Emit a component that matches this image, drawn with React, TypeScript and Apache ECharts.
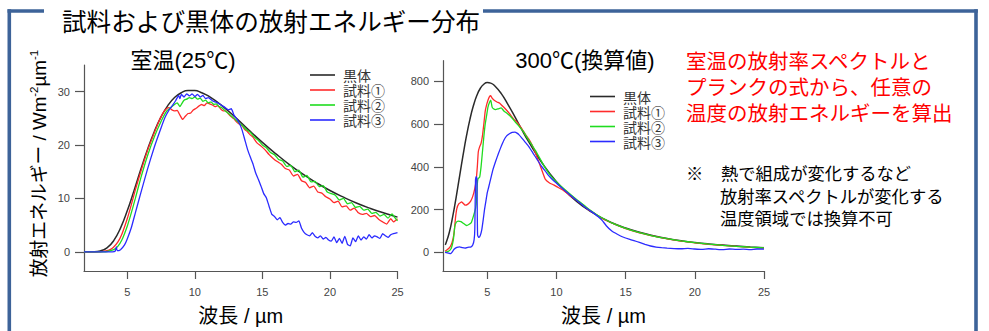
import React, { useEffect, useRef } from 'react';
import * as echarts from 'echarts';

// ---------- labels ----------
const MAIN_TITLE = '試料および黒体の放射エネルギー分布';
const ROOM_TITLE = '室温(25℃)';
const HOT_TITLE = '300℃(換算値)';
const SERIES_NAMES = ['黒体', '試料①', '試料②', '試料③'];
const X_NAME = '波長 / µm';
const RED_NOTE = ['室温の放射率スペクトルと', 'プランクの式から、任意の', '温度の放射エネルギーを算出'];
const BLACK_NOTE = ['熱で組成が変化するなど', '放射率スペクトルが変化する', '温度領域では換算不可'];

// ---------- ticks ----------
const X_TICKS = [5, 10, 15, 20, 25];
const Y_TICKS_ROOM = [0, 10, 20, 30];
const Y_TICKS_HOT = [0, 200, 400, 600, 800];

// ---------- room temperature (25°C) ----------
const roomBlack: [number, number][] = [
  [1.8, 0], [2.5, 0.02], [3, 0.16], [3.5, 0.73], [4, 2.09], [4.5, 4.44], [5, 7.67], [5.5, 11.46],
  [6, 15.4], [6.5, 19.17], [7, 22.5], [7.5, 25.28], [8, 27.4], [8.5, 28.9], [9, 29.8], [9.5, 30.2],
  [10, 30.2], [10.5, 29.8], [11, 29.2], [12, 27.4], [13, 25.2], [14, 22.8], [15, 20.5], [16, 18.36],
  [17, 16.35], [18, 14.54], [19, 12.93], [20, 11.49], [21, 10.23], [22, 9.1], [23, 8.12], [24, 7.26], [25, 6.5],
];
const roomS1: [number, number][] = [
  [1.8, 0], [3, 0], [3.5, 0.2], [3.8, 0.5], [4, 0.9], [4.3, 1.8], [4.6, 3.3], [5, 6.2], [5.3, 8.8],
  [5.6, 11.6], [6, 15.0], [6.5, 19.0], [7, 22.3], [7.3, 24.2], [7.6, 25.8], [7.9, 26.8], [8.1, 27.0],
  [8.3, 26.6], [8.5, 26.4], [8.7, 26.5], [8.9, 25.6], [9.1, 24.8], [9.3, 25.4], [9.5, 25.9], [9.7, 26.0],
  [9.9, 26.6], [10.1, 26.9], [10.3, 27.3], [10.5, 27.6], [10.7, 27.4], [10.9, 27.9], [11.1, 27.7],
  [11.3, 27.5], [11.5, 27.2], [11.7, 27.4], [11.9, 26.8], [12.1, 26.4], [12.3, 26.4], [12.5, 25.8],
  [12.7, 25.3], [12.9, 24.9], [13.1, 24.3], [13.3, 23.9], [13.5, 23.6], [13.7, 22.9], [13.9, 22.5],
  [14.1, 21.9], [14.3, 21.5], [14.6, 20.4], [14.9, 19.8], [15.2, 19.1], [15.5, 18.2], [15.8, 17.5],
  [16.1, 16.9], [16.4, 16.4], [16.7, 15.6], [17.0, 15.3], [17.3, 14.2], [17.6, 14.5], [17.9, 13.3],
  [18.2, 13.0], [18.5, 12.0], [18.8, 12.3], [19.1, 11.2], [19.4, 11.0], [19.7, 10.3], [20.0, 9.9],
  [20.3, 9.2], [20.6, 9.5], [20.9, 8.4], [21.2, 8.6], [21.5, 7.8], [21.8, 8.2], [22.1, 7.3], [22.4, 7.0],
  [22.7, 7.2], [23.0, 6.6], [23.3, 6.8], [23.6, 6.1], [23.9, 5.6], [24.2, 5.2], [24.5, 6.2], [24.7, 5.6], [25.0, 6.2],
];
const roomS2: [number, number][] = [
  [1.8, 0], [3.2, 0], [3.6, 0.1], [4, 0.4], [4.3, 1.0], [4.6, 2.2], [5, 4.8], [5.3, 7.3], [5.6, 10.0],
  [6, 13.8], [6.5, 18.0], [7, 21.5], [7.5, 24.4], [7.9, 26.3], [8.2, 27.0], [8.5, 27.6], [8.7, 27.9],
  [8.9, 27.2], [9.0, 27.6], [9.2, 28.4], [9.4, 28.6], [9.6, 28.9], [9.8, 28.7], [10.0, 29.0], [10.2, 28.6],
  [10.4, 28.8], [10.6, 28.2], [10.8, 28.4], [11.0, 27.9], [11.2, 28.1], [11.4, 27.6], [11.6, 27.7],
  [11.8, 27.2], [12.0, 27.0], [12.3, 26.3], [12.6, 25.7], [12.9, 25.0], [13.2, 24.3], [13.5, 23.7],
  [13.8, 22.9], [14.1, 22.4], [14.4, 21.5], [14.7, 20.9], [15.0, 20.0], [15.3, 19.5], [15.6, 18.6],
  [15.9, 18.2], [16.2, 17.3], [16.5, 17.0], [16.8, 16.0], [17.1, 16.2], [17.4, 15.0], [17.7, 15.3],
  [18.0, 14.0], [18.3, 14.3], [18.6, 13.1], [18.9, 13.2], [19.2, 12.2], [19.5, 12.4], [19.8, 11.2],
  [20.1, 10.9], [20.4, 10.6], [20.7, 9.7], [21.0, 10.0], [21.3, 9.0], [21.6, 9.2], [21.9, 8.3], [22.2, 8.5],
  [22.5, 7.8], [22.8, 8.0], [23.1, 7.2], [23.4, 7.4], [23.7, 6.7], [24.0, 7.0], [24.3, 6.3], [24.6, 7.1],
  [24.8, 6.4], [25.0, 5.8],
];
const roomS3: [number, number][] = [
  [1.8, 0], [3.9, 0], [4.1, 0.1], [4.2, 0.9], [4.25, 0.2], [4.5, 0.4], [4.8, 1.3], [5.0, 2.4], [5.3, 4.5],
  [5.6, 7.3], [6.0, 11.0], [6.5, 15.5], [7.0, 19.6], [7.5, 23.2], [7.8, 25.2], [8.1, 26.6], [8.4, 27.6],
  [8.6, 28.4], [8.8, 29.3], [8.9, 28.7], [9.0, 29.5], [9.2, 29.0], [9.4, 29.6], [9.6, 29.2], [9.8, 29.6],
  [10.0, 29.1], [10.2, 29.5], [10.4, 29.0], [10.6, 29.3], [10.8, 28.7], [11.0, 28.9], [11.3, 28.3],
  [11.6, 28.0], [11.9, 27.6], [12.2, 27.1], [12.5, 26.6], [12.7, 26.8], [12.9, 25.6], [13.1, 24.9],
  [13.3, 24.1], [13.5, 22.8], [13.7, 21.0], [13.9, 19.2], [14.1, 17.8], [14.3, 16.5], [14.5, 14.8],
  [14.7, 13.6], [14.9, 12.3], [15.1, 10.9], [15.3, 10.1], [15.5, 8.5], [15.7, 7.0], [15.9, 6.6],
  [16.1, 6.0], [16.3, 6.4], [16.5, 5.5], [16.7, 5.0], [16.9, 5.3], [17.1, 5.2], [17.3, 5.6], [17.5, 5.5],
  [17.7, 5.8], [17.9, 4.4], [18.1, 3.6], [18.3, 3.2], [18.5, 3.0], [18.7, 3.6], [18.9, 2.9], [19.1, 2.6],
  [19.3, 3.0], [19.5, 2.4], [19.7, 2.7], [19.9, 2.2], [20.1, 2.0], [20.3, 2.8], [20.5, 1.7], [20.7, 2.5],
  [20.9, 1.6], [21.1, 2.9], [21.3, 1.4], [21.5, 1.1], [21.7, 2.6], [21.9, 1.9], [22.1, 3.0], [22.3, 2.2],
  [22.5, 2.8], [22.7, 2.4], [22.9, 3.2], [23.1, 2.6], [23.3, 3.0], [23.5, 2.8], [23.7, 2.5], [23.9, 3.4],
  [24.1, 3.0], [24.3, 2.7], [24.5, 3.2], [24.7, 3.4], [25.0, 3.6],
];

// ---------- 300°C (converted) ----------
const hotBlack: [number, number][] = [
  [1.95, 36], [2, 41], [2.25, 92], [2.5, 167], [2.75, 258], [3, 357], [3.25, 455], [3.5, 546], [3.75, 624],
  [4, 687], [4.25, 735], [4.5, 768], [4.75, 787], [5, 794.5], [5.25, 792], [5.5, 782], [6, 744], [6.5, 692],
  [7, 634], [7.5, 574], [8, 517], [9, 415], [10, 331], [11, 264], [12, 212], [13, 171], [14, 139], [15, 114],
  [16, 94], [17, 78], [18, 65], [19, 55], [20, 46.6], [21, 39.7], [22, 34.1], [23, 29.4], [24, 25.4], [25, 22.1],
];
const hotS1: [number, number][] = [
  [1.95, 5], [2.1, 12], [2.3, 25], [2.45, 45], [2.6, 90], [2.7, 160], [2.8, 205], [2.95, 228], [3.15, 236],
  [3.4, 221], [3.6, 226], [3.8, 240], [3.95, 262], [4.1, 300], [4.2, 340], [4.28, 400], [4.35, 470],
  [4.45, 495], [4.55, 510], [4.65, 545], [4.75, 600], [4.85, 660], [4.95, 690], [5.05, 712], [5.15, 728],
  [5.25, 733], [5.35, 722], [5.5, 712], [5.7, 704], [5.9, 698], [6.1, 685], [6.3, 672], [6.6, 650],
  [6.9, 625], [7.2, 605], [7.5, 578], [7.8, 548], [8.1, 520], [8.4, 480], [8.6, 445], [8.8, 410], [9.0, 375],
  [9.2, 342], [9.5, 325], [9.8, 316], [10.1, 305], [10.5, 290], [10.9, 270], [11.3, 252], [11.7, 232],
  [12.2, 206], [12.7, 184], [13.2, 163], [13.7, 147], [14.2, 132], [15, 111], [16, 91], [17, 76], [18, 63],
  [19, 53], [20, 45], [21, 38], [22, 33], [23, 28], [24, 24], [25, 21],
];
const hotS2: [number, number][] = [
  [1.95, 0], [2.2, 5], [2.4, 20], [2.55, 60], [2.65, 120], [2.75, 140], [2.9, 146], [3.1, 144], [3.3, 135],
  [3.5, 126], [3.7, 132], [3.85, 140], [4.0, 170], [4.15, 205], [4.22, 240], [4.28, 320], [4.33, 345],
  [4.45, 352], [4.55, 400], [4.65, 470], [4.75, 540], [4.85, 600], [4.95, 640], [5.05, 680], [5.15, 700],
  [5.25, 712], [5.35, 680], [5.45, 672], [5.6, 668], [5.8, 672], [6.0, 676], [6.2, 662], [6.4, 652],
  [6.7, 635], [7.0, 612], [7.3, 590], [7.6, 566], [7.9, 535], [8.2, 505], [8.5, 475], [8.8, 440], [9.1, 405],
  [9.4, 375], [9.7, 350], [10, 330], [10.5, 300], [11, 272], [11.5, 245], [12, 220], [12.5, 195], [13, 173],
  [13.5, 155], [14, 138], [15, 112], [16, 92], [17, 76], [18, 64], [19, 54], [20, 46], [21, 39], [22, 33],
  [23, 28.5], [24, 24.5], [25, 21.5],
];
const hotS3: [number, number][] = [
  [1.95, 0], [2.2, -3], [2.35, -6], [2.5, 5], [2.6, 15], [2.8, 24], [3.0, 26], [3.2, 22], [3.4, 20],
  [3.6, 24], [3.8, 25], [3.95, 35], [4.05, 60], [4.1, 110], [4.15, 340], [4.2, 355], [4.25, 345], [4.3, 80],
  [4.4, 70], [4.5, 80], [4.6, 105], [4.7, 150], [4.8, 200], [4.9, 240], [5.0, 280], [5.1, 305], [5.25, 345],
  [5.4, 385], [5.6, 425], [5.8, 462], [6.0, 495], [6.2, 525], [6.4, 545], [6.6, 555], [6.8, 562], [7.0, 563],
  [7.15, 558], [7.3, 550], [7.5, 535], [7.75, 515], [8.0, 495], [8.3, 465], [8.6, 435], [8.9, 405],
  [9.2, 380], [9.5, 355], [9.8, 335], [10.2, 312], [10.6, 290], [11.0, 268], [11.5, 242], [12, 215],
  [12.5, 192], [13, 168], [13.3, 150], [13.6, 125], [14, 100], [14.4, 85], [14.8, 72], [15.2, 63],
  [15.6, 55], [16, 47], [16.4, 38], [16.8, 30], [17.2, 25], [17.6, 22], [18, 20], [18.5, 18], [19, 17],
  [19.5, 19], [20, 16], [20.5, 14], [21, 17], [21.5, 15], [22, 13], [22.5, 16], [23, 14], [23.5, 15],
  [24, 13], [24.5, 16], [25, 15],
];

const COLORS = ['#2a2a2a', '#ff2b2b', '#1fdc1f', '#2b2bff'];
const JP = '"Noto Sans CJK JP", sans-serif';
const MIX = '"Liberation Sans", "Noto Sans CJK JP", sans-serif';
const FRAME = '#3d6399';
const AXIS = '#555555';

function axisX(gridIndex: number) {
  return {
    type: 'value',
    gridIndex,
    min: 1.8,
    max: 25,
    name: X_NAME,
    nameLocation: 'middle',
    nameGap: 35,
    nameTextStyle: { fontSize: 20, color: '#000', fontFamily: MIX },
    axisLine: { show: true, onZero: false, lineStyle: { color: AXIS, width: 1.2 } },
    axisTick: { show: true, length: 8, customValues: X_TICKS, lineStyle: { color: AXIS, width: 1.2 } },
    axisLabel: { show: true, margin: 15, fontSize: 11, color: '#444', fontFamily: MIX, customValues: X_TICKS },
    splitLine: { show: false },
  };
}

function axisY(gridIndex: number, min: number, max: number, ticks: number[]) {
  return {
    type: 'value',
    gridIndex,
    min,
    max,
    axisLine: { show: true, onZero: false, lineStyle: { color: AXIS, width: 1.2 } },
    axisTick: { show: true, length: 9, customValues: ticks, lineStyle: { color: AXIS, width: 1.2 } },
    axisLabel: { show: true, margin: 14, fontSize: 11, color: '#444', fontFamily: MIX, customValues: ticks },
    splitLine: { show: false },
  };
}

function line(name: string, idx: number, data: [number, number][], axis: number, smooth: number | boolean) {
  return {
    type: 'line',
    name,
    xAxisIndex: axis,
    yAxisIndex: axis,
    data,
    showSymbol: false,
    symbol: 'none',
    smooth,
    lineStyle: { color: COLORS[idx], width: idx === 0 ? 1.5 : 1.3 },
    itemStyle: { color: COLORS[idx] },
  };
}

function legend(left: number, top: number) {
  return {
    data: SERIES_NAMES,
    orient: 'vertical',
    left,
    top,
    icon: 'rect',
    itemWidth: 25,
    itemHeight: 1.6,
    itemGap: 0,
    padding: 0,
    selectedMode: false,
    textStyle: { fontSize: 14, lineHeight: 15, color: '#333', fontFamily: JP, padding: [0, 0, 0, 3] },
  };
}

export default function App() {
  const ref = useRef<HTMLDivElement>(null);
  useEffect(() => {
    if (!ref.current) return;
    const chart = echarts.init(ref.current, undefined, { renderer: 'svg' });
    const frameLine = (x1: number, y1: number, x2: number, y2: number) => ({
      type: 'line',
      shape: { x1, y1, x2, y2 },
      style: { stroke: FRAME, lineWidth: 3.6 },
      silent: true,
    });
    const text = (x: number, y: number, t: string, size: number, color: string, align = 'left', family = JP) => ({
      type: 'text',
      x,
      y,
      style: { text: t, fontSize: size, fill: color, fontFamily: family, align, verticalAlign: 'middle' },
      silent: true,
    });
    chart.setOption({
      animation: false,
      backgroundColor: '#ffffff',
      grid: [
        { left: 84, top: 65, width: 313.5, height: 208 },
        { left: 443, top: 60.7, width: 321, height: 212.3 },
      ],
      xAxis: [axisX(0), axisX(1)],
      yAxis: [axisY(0, -3.6, 35, Y_TICKS_ROOM), axisY(1, -87, 897, Y_TICKS_HOT)],
      legend: [legend(310, 67.5), legend(590, 89)],
      series: [
        line(SERIES_NAMES[0], 0, roomBlack, 0, true),
        line(SERIES_NAMES[1], 1, roomS1, 0, 0.15),
        line(SERIES_NAMES[2], 2, roomS2, 0, 0.15),
        line(SERIES_NAMES[3], 3, roomS3, 0, 0.15),
        line(SERIES_NAMES[0], 0, hotBlack, 1, true),
        line(SERIES_NAMES[1], 1, hotS1, 1, 0.15),
        line(SERIES_NAMES[2], 2, hotS2, 1, 0.15),
        line(SERIES_NAMES[3], 3, hotS3, 1, 0.15),
      ],
      graphic: [
        frameLine(7.5, 11, 44, 11),
        frameLine(483, 11, 977.8, 11),
        frameLine(9.3, 9.2, 9.3, 331),
        frameLine(976, 9.2, 976, 331),
        text(62, 20, MAIN_TITLE, 24.6, '#000'),
        text(183, 60, ROOM_TITLE, 22, '#000', 'center', MIX),
        text(585, 60, HOT_TITLE, 22, '#000', 'center', MIX),
        {
          type: 'text',
          x: 39,
          y: 163.5,
          rotation: Math.PI / 2,
          silent: true,
          style: {
            text: '放射エネルギー / Wm{sup|-2}µm{sup|-1}',
            fontSize: 18.8,
            fill: '#000',
            fontFamily: MIX,
            align: 'center',
            verticalAlign: 'middle',
            rich: {
              sup: { fontSize: 11.5, fill: '#000', fontFamily: MIX, verticalAlign: 'top', lineHeight: 22 },
            },
          },
        },
        ...RED_NOTE.map((t, i) => text(686, 60 + i * 26, t, 20.5, '#ff0000')),
        text(686, 172, '※', 17.3, '#000'),
        text(721, 172, BLACK_NOTE[0], 17.3, '#000'),
        text(720, 195, BLACK_NOTE[1], 17.3, '#000'),
        text(720, 217, BLACK_NOTE[2], 17.3, '#000'),
      ],
    });
    return () => chart.dispose();
  }, []);
  return <div ref={ref} style={{ width: 989, height: 331, position: 'absolute', left: 0, top: 0 }} />;
}
